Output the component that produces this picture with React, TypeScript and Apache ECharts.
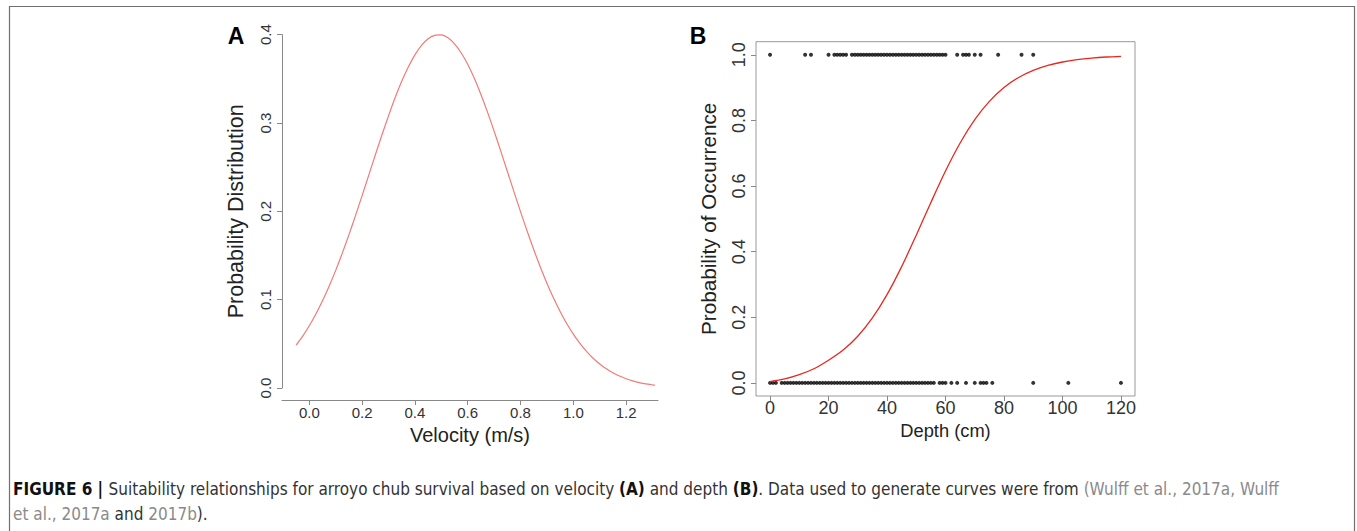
import React, { useEffect, useRef } from "react";
import * as echarts from "echarts";

// Panel A: velocity suitability curve
const velocity = [-0.05, -0.025, 0, 0.025, 0.05, 0.075, 0.1, 0.125, 0.15, 0.175, 0.2, 0.225, 0.25, 0.275, 0.3, 0.325, 0.35, 0.375, 0.4, 0.425, 0.45, 0.475, 0.5, 0.525, 0.55, 0.575, 0.6, 0.625, 0.65, 0.675, 0.7, 0.725, 0.75, 0.775, 0.8, 0.825, 0.85, 0.875, 0.9, 0.925, 0.95, 0.975, 1.0, 1.025, 1.05, 1.075, 1.1, 1.125, 1.15, 1.175, 1.2, 1.225, 1.25, 1.275, 1.3, 1.31];
const probDistribution = [0.0486, 0.0588, 0.0705, 0.0838, 0.0987, 0.1152, 0.1332, 0.1527, 0.1734, 0.1952, 0.2178, 0.2408, 0.2638, 0.2864, 0.3081, 0.3286, 0.3472, 0.3635, 0.3772, 0.388, 0.3954, 0.3993, 0.3997, 0.3965, 0.3897, 0.3796, 0.3665, 0.3506, 0.3324, 0.3123, 0.2908, 0.2684, 0.2454, 0.2224, 0.1997, 0.1777, 0.1568, 0.137, 0.1187, 0.1019, 0.0867, 0.073, 0.061, 0.0505, 0.0415, 0.0337, 0.0272, 0.0217, 0.0172, 0.0135, 0.0105, 0.0081, 0.0061, 0.0046, 0.0035, 0.0031];
const velocityTicks = [0, 0.2, 0.4, 0.6, 0.8, 1.0, 1.2];

// Panel B: depth logistic curve and observations
const depth = [0, 5, 10, 15, 20, 25, 30, 35, 40, 45, 50, 55, 60, 65, 70, 75, 80, 85, 90, 95, 100, 105, 110, 115, 120];
const probOccurrence = [0.004, 0.012, 0.025, 0.043, 0.069, 0.1, 0.142, 0.1978, 0.2689, 0.3543, 0.4502, 0.5498, 0.6457, 0.7311, 0.8022, 0.8581, 0.9002, 0.9309, 0.9526, 0.9677, 0.9781, 0.9852, 0.99, 0.9933, 0.9955];
const depthTicks = [0, 20, 40, 60, 80, 100, 120];
const probTicks = [0, 0.2, 0.4, 0.6, 0.8, 1.0];
const presentDepths = [0, 12, 14, 20, 22, 23, 24, 25, 26, 28, 29, 30, 31, 32, 33, 34, 35, 36, 37, 38, 39, 40, 41, 42, 43, 44, 45, 46, 47, 48, 49, 50, 51, 52, 53, 54, 55, 56, 57, 58, 59, 60, 64, 66, 67, 68, 70, 72, 78, 86, 90];
const absentDepths = [0, 1, 2, 4, 5, 6, 7, 8, 9, 10, 11, 12, 13, 14, 15, 16, 17, 18, 19, 20, 21, 22, 23, 24, 25, 26, 27, 28, 29, 30, 31, 32, 33, 34, 35, 36, 37, 38, 39, 40, 41, 42, 43, 44, 45, 46, 47, 48, 49, 50, 51, 52, 53, 54, 55, 56, 58, 59, 60, 62, 64, 67, 70, 72, 73, 74, 76, 90, 102, 120];

const FONT = "'Liberation Sans', Arial, Helvetica, sans-serif";
const CAP_FONT = "'DejaVu Sans Condensed', 'Liberation Sans Narrow', 'Liberation Sans', Arial, sans-serif";
const CAP_SIZE = 17;

export default function App() {
  const ref = useRef<HTMLDivElement>(null);
  useEffect(() => {
    document.body.style.margin = "0";
    if (!ref.current) return;
    const chart = echarts.init(ref.current, null, { renderer: "svg" });
    const tickLabel = (size: number) => ({ color: "#333", fontSize: size, fontFamily: FONT });
    chart.setOption({
      animation: false,
      backgroundColor: "#fff",
      grid: [
        { left: 282, top: 34.7, width: 376, height: 353.3, containLabel: false },
        { left: 756, top: 41.7, width: 379, height: 354.3, show: true, borderColor: "#999", borderWidth: 1, backgroundColor: "transparent" },
      ],
      xAxis: [
        {
          type: "value", gridIndex: 0, min: -0.1034, max: 1.3208, offset: 12,
          axisLine: { show: true, onZero: false, lineStyle: { color: "#888", width: 1 } },
          axisTick: { show: true, length: 5, customValues: velocityTicks, lineStyle: { color: "#888" } },
          axisLabel: { ...tickLabel(15), margin: 5, customValues: velocityTicks, formatter: (v: number) => v.toFixed(1) },
          splitLine: { show: false },
          name: "Velocity (m/s)", nameLocation: "middle", nameGap: 16,
          nameTextStyle: { color: "#222", fontSize: 20, fontFamily: FONT },
        },
        {
          type: "value", gridIndex: 1, min: -4.8, max: 124.8,
          axisLine: { show: false, onZero: false },
          axisTick: { show: true, length: 5, customValues: depthTicks, lineStyle: { color: "#888" } },
          axisLabel: { ...tickLabel(18), margin: 3, customValues: depthTicks },
          splitLine: { show: false },
          name: "Depth (cm)", nameLocation: "middle", nameGap: 15,
          nameTextStyle: { color: "#222", fontSize: 18.3, fontFamily: FONT },
        },
      ],
      yAxis: [
        {
          type: "value", gridIndex: 0, min: 0, max: 0.4, interval: 0.1,
          axisLine: { show: true, onZero: false, lineStyle: { color: "#888", width: 1 } },
          axisTick: { show: true, length: 5, lineStyle: { color: "#888" } },
          axisLabel: { ...tickLabel(15), rotate: 90, margin: 9, formatter: (v: number) => v.toFixed(1) },
          splitLine: { show: false },
          name: "Probability Distribution", nameLocation: "middle", nameGap: 35, nameRotate: 90,
          nameTextStyle: { color: "#222", fontSize: 21.5, fontFamily: FONT },
        },
        {
          type: "value", gridIndex: 1, min: -0.04, max: 1.04,
          axisLine: { show: false, onZero: false },
          axisTick: { show: true, length: 5, customValues: probTicks, lineStyle: { color: "#888" } },
          axisLabel: { ...tickLabel(18), rotate: 90, margin: 8, customValues: probTicks, formatter: (v: number) => v.toFixed(1) },
          splitLine: { show: false },
          name: "Probability of Occurrence", nameLocation: "middle", nameGap: 37, nameRotate: 90,
          nameTextStyle: { color: "#222", fontSize: 20.7, fontFamily: FONT },
        },
      ],
      series: [
        {
          type: "line", xAxisIndex: 0, yAxisIndex: 0, smooth: 0.2, symbol: "none",
          lineStyle: { color: "#f27a78", width: 1.2 },
          data: velocity.map((v, i) => [v, probDistribution[i]]),
        },
        {
          type: "scatter", xAxisIndex: 1, yAxisIndex: 1, symbolSize: 4,
          itemStyle: { color: "#000" },
          data: presentDepths.map((d) => [d, 1]),
        },
        {
          type: "scatter", xAxisIndex: 1, yAxisIndex: 1, symbolSize: 4,
          itemStyle: { color: "#000" },
          data: absentDepths.map((d) => [d, 0]),
        },
        {
          type: "line", xAxisIndex: 1, yAxisIndex: 1, smooth: 0.3, symbol: "none",
          lineStyle: { color: "#e8281e", width: 1.3 },
          data: depth.map((d, i) => [d, probOccurrence[i]]),
          z: 3,
        },
      ],
      graphic: [
        {
          type: "polyline", silent: true,
          shape: { points: [[9.5, 531], [9.5, 6.5], [1354.5, 6.5], [1354.5, 531]] },
          style: { stroke: "#707070", lineWidth: 1.2, fill: "none" },
        },
        {
          type: "text", x: 236, y: 36,
          style: { text: "A", font: `bold 23px ${FONT}`, fill: "#000", textAlign: "center", textVerticalAlign: "middle" },
        },
        {
          type: "text", x: 698, y: 36,
          style: { text: "B", font: `bold 23px ${FONT}`, fill: "#000", textAlign: "center", textVerticalAlign: "middle" },
        },
        {
          type: "text", x: 13, y: 489,
          style: {
            text: "{b|FIGURE 6 | }{n|Suitability relationships for arroyo chub survival based on velocity }{b|(A)}{n| and depth }{b|(B)}{n|. Data used to generate curves were from }{g|(Wulff et al., 2017a, Wulff}",
            textVerticalAlign: "middle",
            rich: {
              b: { fontFamily: CAP_FONT, fontSize: CAP_SIZE, fontWeight: "bold", fill: "#111" },
              n: { fontFamily: CAP_FONT, fontSize: CAP_SIZE, fill: "#333" },
              g: { fontFamily: CAP_FONT, fontSize: CAP_SIZE, fill: "#8a8a8a" },
            },
          },
        },
        {
          type: "text", x: 13, y: 514,
          style: {
            text: "{g|et al., 2017a }{n|and }{g|2017b}{n|).}",
            textVerticalAlign: "middle",
            rich: {
              n: { fontFamily: CAP_FONT, fontSize: CAP_SIZE, fill: "#333" },
              g: { fontFamily: CAP_FONT, fontSize: CAP_SIZE, fill: "#8a8a8a" },
            },
          },
        },
      ],
    });
    return () => chart.dispose();
  }, []);
  return <div ref={ref} style={{ width: 1357, height: 531 }} />;
}
